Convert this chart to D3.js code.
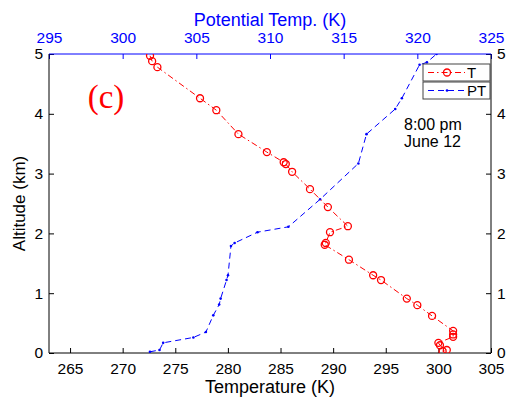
<!DOCTYPE html>
<html>
<head>
<meta charset="utf-8">
<script src="https://d3js.org/d3.v7.min.js"></script>
<style>
  body { margin: 0; background: #fff; }
  svg { display: block; font-family: "Liberation Sans", Arial, sans-serif; }
</style>
</head>
<body>
<svg id="chart"></svg>
<script>
// temperature profile (K) and altitude (km)
const tempK = [272.6, 272.8, 273.3, 277.35, 278.9, 281.0, 283.7, 285.3, 285.5, 286.1, 287.8, 289.5,
  291.4, 289.7, 289.3, 289.2, 291.5, 293.8, 294.55, 297.0, 298.0, 299.4, 301.4, 301.4, 301.4,
  300.0, 300.15, 300.8, 300.4];
const tempAlt = [4.97, 4.88, 4.78, 4.26, 4.06, 3.66, 3.36, 3.19, 3.16, 3.03, 2.74, 2.44,
  2.12, 2.02, 1.84, 1.81, 1.56, 1.30, 1.22, 0.91, 0.80, 0.62, 0.37, 0.31, 0.27,
  0.17, 0.13, 0.05, 0.03];

// potential temperature (K) and altitude (km)
const ptK = [301.85, 302.5, 302.75, 304.8, 305.65, 306.15, 306.55, 306.65, 307.05, 307.15, 307.35,
  307.6, 309.15, 311.25, 313.4, 316.0, 316.55, 318.5, 318.95, 320.15, 320.65, 321.3];
const ptAlt = [0.02, 0.05, 0.17, 0.26, 0.35, 0.63, 0.81, 0.91, 1.22, 1.30, 1.79,
  1.84, 2.02, 2.11, 2.57, 3.17, 3.66, 4.08, 4.26, 4.82, 4.86, 5.0];

const tempTicks = [265, 270, 275, 280, 285, 290, 295, 300, 305];
const ptTicks = [295, 300, 305, 310, 315, 320, 325];
const altTicks = [0, 1, 2, 3, 4, 5];

const width = 510, height = 405;
const margin = { top: 54, right: 19, bottom: 52, left: 49 };
const innerW = width - margin.left - margin.right;
const innerH = height - margin.top - margin.bottom;

const svg = d3.select("#chart").attr("width", width).attr("height", height);

const x = d3.scaleLinear().domain([263, 305]).range([0, innerW]);
const xTop = d3.scaleLinear().domain([295, 325]).range([0, innerW]);
const y = d3.scaleLinear().domain([0, 5]).range([innerH, 0]);

const g = svg.append("g").attr("transform", `translate(${margin.left},${margin.top})`);

g.append("clipPath").attr("id", "clip")
  .append("rect").attr("width", innerW).attr("height", innerH);

// axes (ticks point inward)
function styleAxis(sel, color, size) {
  sel.select(".domain").remove();
  sel.selectAll(".tick line").attr("stroke", color);
  sel.selectAll(".tick text").attr("fill", color).style("font-size", size + "px");
}

g.append("g").attr("transform", `translate(0,${innerH})`)
  .call(d3.axisBottom(x).tickValues(tempTicks).tickFormat(d3.format("d"))
    .tickSizeInner(-5).tickSizeOuter(0).tickPadding(10))
  .call(s => styleAxis(s, "#000", 15.5));

g.append("g")
  .call(d3.axisTop(xTop).tickValues(ptTicks).tickFormat(d3.format("d"))
    .tickSizeInner(-5).tickSizeOuter(0).tickPadding(11))
  .call(s => styleAxis(s, "#0000ff", 15.5));

g.append("g")
  .call(d3.axisLeft(y).tickValues(altTicks).tickFormat(d3.format("d"))
    .tickSizeInner(-5).tickSizeOuter(0).tickPadding(6))
  .call(s => styleAxis(s, "#000", 15.5));

g.append("g").attr("transform", `translate(${innerW},0)`)
  .call(d3.axisRight(y).tickValues(altTicks).tickFormat(d3.format("d"))
    .tickSizeInner(-5).tickSizeOuter(0).tickPadding(6))
  .call(s => styleAxis(s, "#000", 15.5));

// frame
g.append("line").attr("x1", 0).attr("x2", 0).attr("y1", 0).attr("y2", innerH).attr("stroke", "#000");
g.append("line").attr("x1", innerW).attr("x2", innerW).attr("y1", 0).attr("y2", innerH).attr("stroke", "#000");
g.append("line").attr("x1", 0).attr("x2", innerW).attr("y1", innerH).attr("y2", innerH).attr("stroke", "#000");
g.append("line").attr("x1", 0).attr("x2", innerW).attr("y1", 0).attr("y2", 0).attr("stroke", "#0000ff");

// axis titles
svg.append("text").attr("x", margin.left + innerW / 2).attr("y", 393)
  .attr("text-anchor", "middle").style("font-size", "18px").text("Temperature (K)");
svg.append("text").attr("x", margin.left + innerW / 2).attr("y", 26)
  .attr("text-anchor", "middle").style("font-size", "18px").attr("fill", "#0000ff")
  .text("Potential Temp. (K)");
svg.append("text").attr("transform", `translate(25,${margin.top + innerH / 2}) rotate(-90)`)
  .attr("text-anchor", "middle").style("font-size", "17px").text("Altitude (km)");

const plot = g.append("g").attr("clip-path", "url(#clip)");

// PT: blue dashed with point markers
const ptData = ptK.map((v, i) => ({ v, a: ptAlt[i] }));
plot.append("path").datum(ptData)
  .attr("fill", "none").attr("stroke", "#0000ff").attr("stroke-width", 1)
  .attr("stroke-dasharray", "6,4")
  .attr("d", d3.line().x(d => xTop(d.v)).y(d => y(d.a)));
plot.selectAll(".ptdot").data(ptData).join("circle").attr("class", "ptdot")
  .attr("cx", d => xTop(d.v)).attr("cy", d => y(d.a)).attr("r", 1.3).attr("fill", "#0000ff");

// T: red dash-dot with open circles
const tData = tempK.map((v, i) => ({ v, a: tempAlt[i] }));
plot.append("path").datum(tData)
  .attr("fill", "none").attr("stroke", "#ff0000").attr("stroke-width", 1)
  .attr("stroke-dasharray", "6,3,1.5,3")
  .attr("d", d3.line().x(d => x(d.v)).y(d => y(d.a)));
plot.selectAll(".tdot").data(tData).join("circle").attr("class", "tdot")
  .attr("cx", d => x(d.v)).attr("cy", d => y(d.a)).attr("r", 3.5)
  .attr("fill", "none").attr("stroke", "#ff0000").attr("stroke-width", 1.3);

// panel label and annotation
svg.append("text").attr("x", 106).attr("y", 108).attr("text-anchor", "middle")
  .style("font-family", "'Liberation Serif', 'Times New Roman', serif").style("font-size", "33px")
  .attr("fill", "#ff0000").text("(c)");
svg.append("text").attr("x", 404).attr("y", 130).style("font-size", "16px").text("8:00 pm");
svg.append("text").attr("x", 404).attr("y", 147).style("font-size", "16px").text("June 12");

// legends (one per axis, as in the original)
const legends = [
  { label: "T", color: "#ff0000", dash: "6,3,1.5,3", y: 64, marker: "circle" },
  { label: "PT", color: "#0000ff", dash: "6,4", y: 82, marker: "dot" }
];
legends.forEach(l => {
  const lg = svg.append("g").attr("transform", `translate(423,${l.y})`);
  lg.append("rect").attr("width", 67).attr("height", 17)
    .attr("fill", "#fff").attr("stroke", "#444").attr("stroke-width", 1);
  lg.append("line").attr("x1", 5).attr("x2", 42).attr("y1", 8.5).attr("y2", 8.5)
    .attr("stroke", l.color).attr("stroke-dasharray", l.dash);
  if (l.marker === "circle") {
    lg.append("circle").attr("cx", 24).attr("cy", 8.5).attr("r", 3.5)
      .attr("fill", "none").attr("stroke", l.color).attr("stroke-width", 1.3);
  } else {
    lg.append("circle").attr("cx", 24).attr("cy", 8.5).attr("r", 1.3).attr("fill", l.color);
  }
  lg.append("text").attr("x", 44).attr("y", 14).style("font-size", "15px").text(l.label);
});
</script>
</body>
</html>
